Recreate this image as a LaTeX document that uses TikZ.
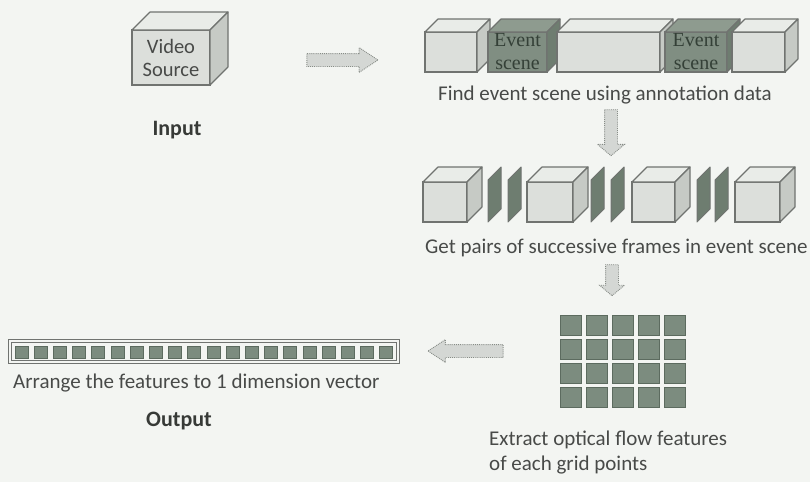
\documentclass[tikz,border=0pt]{standalone}
\usepackage{fontspec}
\setmainfont{Liberation Serif}
\setsansfont{Carlito}
\usetikzlibrary{shapes.arrows,calc}
\definecolor{paper}{RGB}{243,245,242}
\definecolor{textgray}{RGB}{72,74,72}
\definecolor{stagegray}{RGB}{55,58,55}
\definecolor{edgegray}{RGB}{112,115,112}
\definecolor{lightface}{RGB}{220,223,219}
\definecolor{lighttop}{RGB}{233,236,232}
\definecolor{lightside}{RGB}{198,202,197}
\definecolor{darkface}{RGB}{128,142,130}
\definecolor{darktop}{RGB}{142,155,143}
\definecolor{darkside}{RGB}{110,125,112}
\definecolor{scenegray}{RGB}{52,64,55}
\definecolor{cellgreen}{RGB}{124,140,127}
\definecolor{celledge}{RGB}{92,107,95}
\definecolor{arrowfill}{RGB}{212,215,212}
\definecolor{arrowedge}{RGB}{135,140,135}
\tikzset{
  frontbox/.style={draw=edgegray, fill=#1, line width=1.1pt, inner sep=0pt, outer sep=0pt,
    align=center, text=textgray, font=\sffamily\fontsize{20.5}{23}\selectfont},
  facebox/.style={draw=edgegray, line width=1.1pt, line join=round},
  scenetext/.style={font=\rmfamily\fontsize{20}{23}\selectfont, text=scenegray, align=center, inner sep=0pt},
  slab/.style={draw=edgegray, fill=darkside, line width=1pt, line join=round},
  gridcell/.style={draw=celledge, fill=cellgreen, line width=1pt, minimum width=21, minimum height=20, inner sep=0pt},
  vectorcell/.style={draw=celledge, fill=cellgreen, line width=0.8pt, minimum width=13, minimum height=12, inner sep=0pt},
  vectorbar/.style={draw=edgegray, double=paper, double distance=1.6pt, line width=0.9pt,
    minimum width=388, minimum height=21, inner sep=0pt},
  blockarrow/.style={single arrow, draw=arrowedge, densely dotted, fill=arrowfill, line width=0.9pt,
    inner sep=6pt},
  caption/.style={font=\sffamily\fontsize{21}{25}\selectfont, text=textgray, inner sep=0pt, align=left},
  stage/.style={font=\sffamily\bfseries\fontsize{22}{26}\selectfont, text=stagegray, inner sep=0pt, anchor=base}
}
\newcommand{\depthfaces}[4]{%
  \draw[facebox, fill=#3] (#1.north west) -- ++(#2,-#2) -- ($(#1.north east)+(#2,-#2)$) -- (#1.north east) -- cycle;
  \draw[facebox, fill=#4] (#1.north east) -- ++(#2,-#2) -- ($(#1.south east)+(#2,-#2)$) -- (#1.south east) -- cycle;
}
\begin{document}
\begin{tikzpicture}[x=1pt,y=-1pt]
  \fill[paper] (0,0) rectangle (810,482);

  \node[frontbox=lightface, minimum width=78, minimum height=55] (video) at (171,57.5) {Video\\Source};
  \depthfaces{video}{18}{lighttop}{lightside}
  \node[stage] (input) at (177,135) {Input};

  \node[blockarrow, minimum height=71, single arrow tip angle=67, single arrow head extend=6pt] (toscene) at (337.5,60) {};

  \node[frontbox=lightface, minimum width=52, minimum height=40] (clip1) at (451,52) {};
  \depthfaces{clip1}{13}{lighttop}{lightside}
  \node[frontbox=darkface, minimum width=59, minimum height=40] (event1) at (517.5,52) {};
  \depthfaces{event1}{13}{darktop}{darkside}
  \node[scenetext] (eventtext1) at (event1) {Event\\scene};
  \node[frontbox=lightface, minimum width=103, minimum height=40] (clip2) at (608.5,52) {};
  \depthfaces{clip2}{13}{lighttop}{lightside}
  \node[frontbox=darkface, minimum width=62, minimum height=40] (event2) at (696,52) {};
  \depthfaces{event2}{13}{darktop}{darkside}
  \node[scenetext] (eventtext2) at (event2) {Event\\scene};
  \node[frontbox=lightface, minimum width=53, minimum height=40] (clip3) at (758.5,52) {};
  \depthfaces{clip3}{13}{lighttop}{lightside}
  \node[caption, anchor=base] (findcaption) at (605,100) {Find event scene using annotation data};

  \node[blockarrow, minimum height=46, single arrow tip angle=100, single arrow head extend=7pt,
    shape border rotate=270] (topairs) at (611,130) {};

  \foreach \name/\cx/\w in {cubeA/445/44, cubeB/550/46, cubeC/653.5/43, cubeD/757.5/45} {
    \node[frontbox=lightface, minimum width=\w, minimum height=40] (\name) at (\cx,202) {};
    \depthfaces{\name}{15}{lighttop}{lightside}
  }
  \foreach \sx in {488,508,591,611,697,715}
    \draw[slab] (\sx,222) -- (\sx,180) -- ++(13,-13) -- ++(0,42) -- cycle;
  \node[caption, anchor=base west] (paircaption) at (425,253) {Get pairs of successive frames in event scene};

  \node[blockarrow, minimum height=31, single arrow tip angle=100, single arrow head extend=6pt,
    shape border rotate=270] (togrid) at (612,277.5) {};

  \foreach \c in {0,...,4}
    \foreach \r in {0,...,3}
      \node[gridcell] (grid\c\r) at ({570.5+26*\c},{325+24*\r}) {};
  \node[caption, anchor=north west] (gridcaption) at (489,431) {Extract optical flow features\\of each grid points};

  \node[blockarrow, minimum height=75, single arrow tip angle=67, single arrow head extend=5pt,
    shape border rotate=180] (tovector) at (470.5,351) {};

  \node[vectorbar] (vector) at (204,351.5) {};
  \foreach \i in {0,...,19}
    \node[vectorcell] (cell\i) at ({21.5+19.2*\i},352) {};
  \node[caption, anchor=base west] (vectorcaption) at (13,388) {Arrange the features to 1 dimension vector};
  \node[stage] (output) at (179,426) {Output};
\end{tikzpicture}
\end{document}
